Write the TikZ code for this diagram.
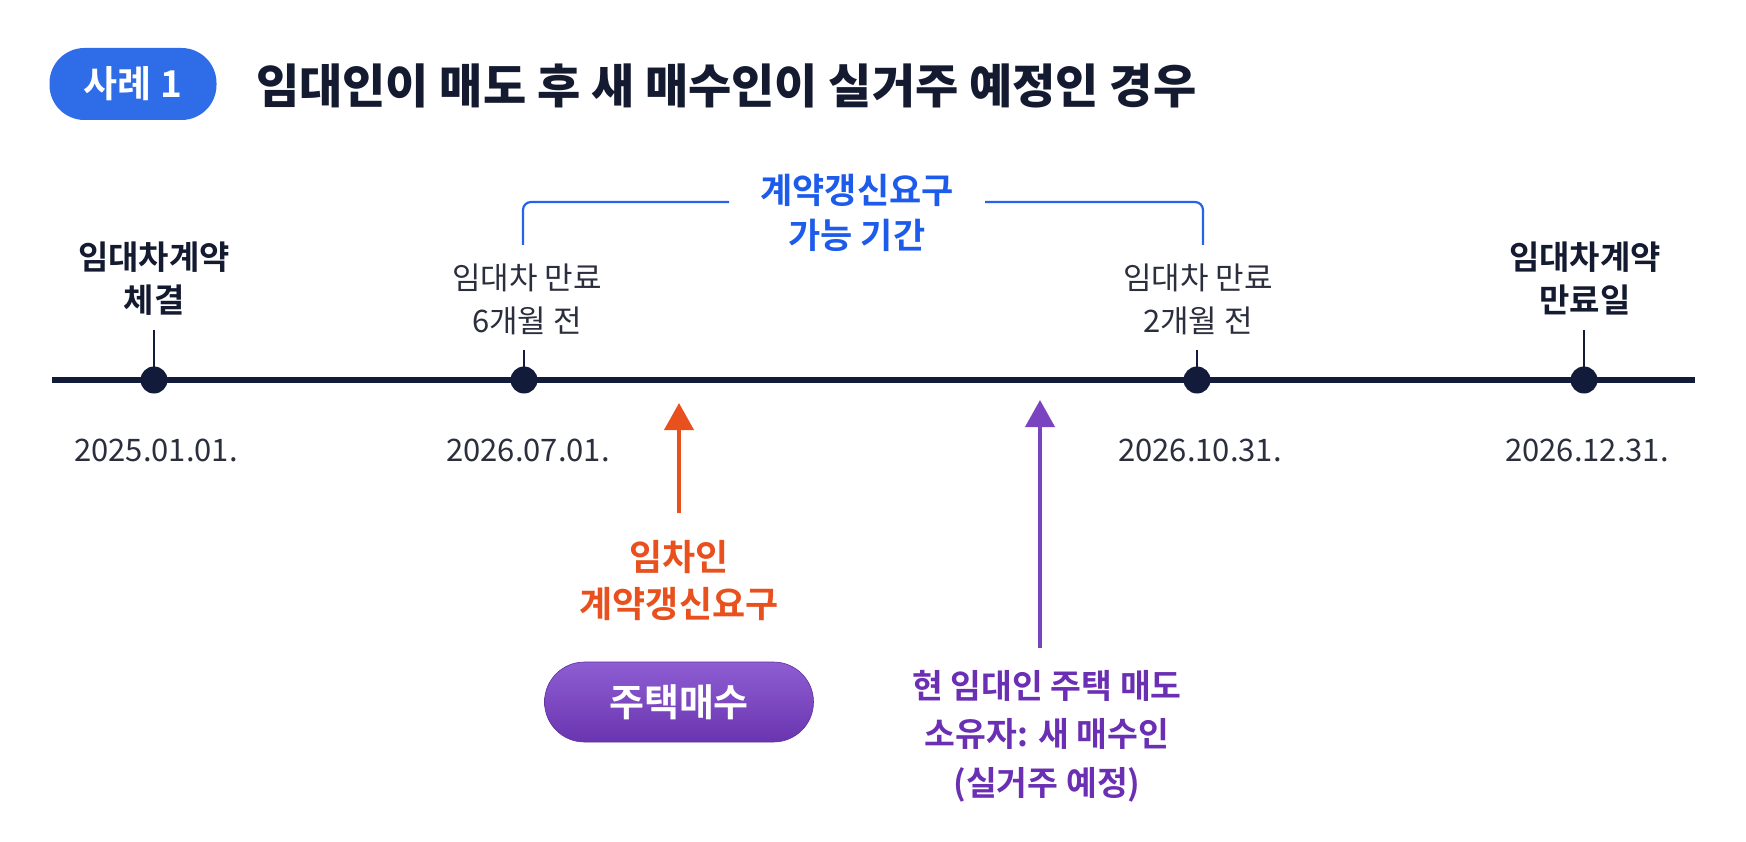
\documentclass[tikz,border=0pt]{standalone}
\usepackage{fontspec}
\setmainfont{Noto Sans CJK KR}[BoldFont={Noto Sans CJK KR Bold}]
\newfontfamily\heavyfont{Noto Sans CJK KR Black}
\usetikzlibrary{arrows.meta}
\definecolor{navy}{HTML}{131B3B}
\definecolor{darktxt}{HTML}{141A30}
\definecolor{graytxt}{HTML}{2B2F3D}
\definecolor{brblue}{HTML}{2563EB}
\definecolor{txtblue}{HTML}{1D5BEA}
\definecolor{badgeblue}{HTML}{2F6CE8}
\definecolor{orng}{HTML}{E8501E}
\definecolor{purptxt}{HTML}{6B2FB3}
\definecolor{purparrow}{HTML}{7A44C0}
\definecolor{btntop}{HTML}{8E5DD2}
\definecolor{btnbot}{HTML}{6A35B0}
\tikzset{
  dotnode/.style={circle,fill=navy,inner sep=0pt,minimum size=27pt},
  ticklabel/.style={align=center,inner sep=0pt,text=darktxt,font=\bfseries\fontsize{33}{43}\selectfont},
  midlabel/.style={align=center,inner sep=0pt,text=graytxt,font=\fontsize{31}{43}\selectfont},
  datelabel/.style={inner sep=0pt,text=graytxt,font=\fontsize{31}{37}\selectfont},
  tickline/.style={draw=navy,line width=2.5pt},
  bracketline/.style={draw=brblue,line width=2.2pt,rounded corners=8pt},
  uparrow/.style={line width=4pt,-{Triangle[width=29pt,length=27pt]}},
}
\begin{document}
\begin{tikzpicture}[x=1pt,y=-1pt]
\useasboundingbox (0,0) rectangle (1746,842);
\fill[white] (0,0) rectangle (1746,842);

% header
\node[fill=badgeblue,rounded corners=35pt,minimum width=167pt,minimum height=72pt,inner sep=0pt,
      text=white,font=\bfseries\fontsize{37}{40}\selectfont] (badge) at (133,84) {사례 1};
\node[anchor=west,inner sep=0pt,text=darktxt,font=\heavyfont\fontsize{47}{52}\selectfont] (title) at (256,86)
  {임대인이 매도 후 새 매수인이 실거주 예정인 경우};

% timeline
\coordinate (tl0) at (52,380);
\coordinate (tl1) at (1695,380);
\draw[navy,line width=6pt] (tl0) -- (tl1);
\node[dotnode] (d1) at (154,380) {};
\node[dotnode] (d2) at (524,380) {};
\node[dotnode] (d3) at (1197,380) {};
\node[dotnode] (d4) at (1584,380) {};
\coordinate (t1) at (154,330);
\coordinate (t2) at (524,350);
\coordinate (t3) at (1197,350);
\coordinate (t4) at (1584,330);
\draw[tickline] (t1) -- (d1.center);
\draw[tickline] (t2) -- (d2.center);
\draw[tickline] (t3) -- (d3.center);
\draw[tickline] (t4) -- (d4.center);

% labels above
\node[ticklabel] (l1) at (154,279) {임대차계약\\체결};
\node[midlabel] (l2) at (527,299) {임대차 만료\\6개월 전};
\node[midlabel] (l3) at (1198,299) {임대차 만료\\2개월 전};
\node[ticklabel] (l4) at (1585,278) {임대차계약\\만료일};

% dates
\node[datelabel] (dt1) at (156,450) {2025.01.01.};
\node[datelabel] (dt2) at (528,450) {2026.07.01.};
\node[datelabel] (dt3) at (1200,450) {2026.10.31.};
\node[datelabel] (dt4) at (1587,450) {2026.12.31.};

% bracket
\node[align=center,inner sep=0pt,text=txtblue,font=\bfseries\fontsize{35}{45}\selectfont] (period) at (857,213)
  {계약갱신요구\\가능 기간};
\coordinate (bl0) at (523,245);
\coordinate (bl1) at (523,202);
\coordinate (bl2) at (729,202);
\coordinate (br0) at (1203,245);
\coordinate (br1) at (1203,202);
\coordinate (br2) at (985,202);
\draw[bracketline] (bl0) -- (bl1) -- (bl2);
\draw[bracketline] (br0) -- (br1) -- (br2);

% orange arrow and label
\coordinate (oa0) at (679,513);
\coordinate (oa1) at (679,403);
\draw[uparrow,draw=orng,fill=orng] (oa0) -- (oa1);
\node[align=center,inner sep=0pt,text=orng,font=\bfseries\fontsize{36}{47}\selectfont] (req) at (679,581)
  {임차인\\계약갱신요구};

% button
\node[top color=btntop,bottom color=btnbot,draw=btnbot!90!black,line width=0.6pt,rounded corners=40pt,
      minimum width=269pt,minimum height=80pt,inner sep=0pt,text=white,
      font=\bfseries\fontsize{38}{42}\selectfont] (buy) at (679,702) {주택매수};

% purple arrow and label
\coordinate (pa0) at (1040,648);
\coordinate (pa1) at (1040,400);
\draw[uparrow,draw=purparrow,fill=purparrow] (pa0) -- (pa1);
\node[align=center,inner sep=0pt,text=purptxt,font=\bfseries\fontsize{33.5}{48.5}\selectfont] (sell) at (1047,736)
  {현 임대인 주택 매도\\소유자: 새 매수인\\(실거주 예정)};
\end{tikzpicture}
\end{document}
